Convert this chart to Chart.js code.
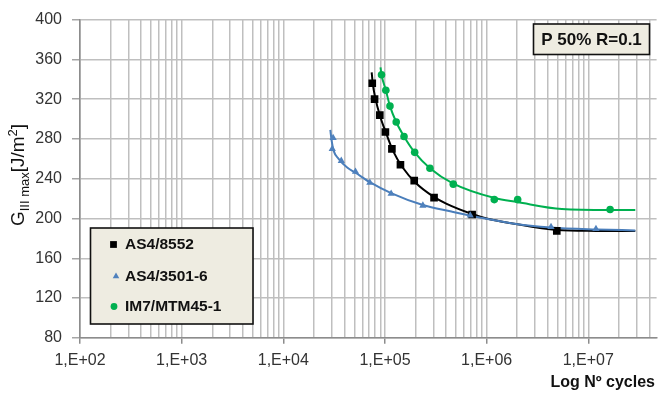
<!DOCTYPE html>
<html><head><meta charset="utf-8">
<script src="https://cdn.jsdelivr.net/npm/chart.js@4/dist/chart.umd.min.js"></script>
<style>html,body{margin:0;padding:0;background:#fff;overflow:hidden}#wrap{width:662px;height:399px;position:relative}</style>
</head><body><div id="wrap"><canvas id="c" width="662" height="399"></canvas></div>
<script>
// ---------- data ----------
const seriesNames = ['AS4/8552', 'AS4/3501-6', 'IM7/MTM45-1'];

// measured points (cycles, G)
const as4_8552_N = [7.5e4, 7.9e4, 8.9e4, 1.01e5, 1.17e5, 1.42e5, 1.94e5, 3.04e5, 7.2e5, 4.9e6];
const as4_8552_G = [336, 320, 304, 287, 270, 254, 238, 221, 204, 187.5];

const as4_3501_N = [3.09e4, 3.03e4, 3.72e4, 5.13e4, 7.1e4, 1.15e5, 2.36e5, 6.9e5, 4.3e6, 1.19e7];
const as4_3501_G = [281, 270, 258, 247, 236, 225, 213, 203, 191.5, 189.5];

const im7_N = [9.25e4, 1.02e5, 1.12e5, 1.29e5, 1.54e5, 1.96e5, 2.77e5, 4.7e5, 1.19e6, 2.02e6, 1.64e7];
const im7_G = [344.5, 329, 313, 297, 282.5, 266.5, 250.5, 234.5, 219, 219, 209];

// fitted trend lines, sampled along the drawn curves
const fit8552_N = [7.4e4, 7.6e4, 8.0e4, 9.0e4, 1.0e5, 1.2e5, 1.5e5, 2.0e5, 3.0e5, 4.0e5, 7.2e5, 1.0e6, 1.8e6, 4.9e6, 1.2e7, 2.9e7];
const fit8552_G = [347, 335, 322, 302, 289, 268, 251, 236, 222, 215, 204.5, 200, 195, 188.5, 187.5, 187.3];

const fit3501_N = [2.9e4, 2.99e4, 3.13e4, 3.5e4, 4.28e4, 5.13e4, 7.1e4, 1.15e5, 2.36e5, 4.5e5, 8.5e5, 1.8e6, 4.3e6, 1.2e7, 2.9e7];
const fit3501_G = [289, 278, 268, 260, 251, 246, 236.5, 225.5, 213.5, 207, 201, 195, 191, 189, 188];

const fitIM7_N = [9.04e4, 9.25e4, 1.02e5, 1.12e5, 1.29e5, 1.54e5, 1.96e5, 2.77e5, 4.7e5, 1.2e6, 2.0e6, 5.5e6, 1.6e7, 2.9e7];
const fitIM7_G = [352, 344.5, 329, 313, 297, 282.5, 266.5, 250.5, 235, 220.5, 216.5, 209.5, 208.5, 208.5];

// axes
const xMajorExponents = [2, 3, 4, 5, 6, 7];
const xTickLabels = ['1,E+02', '1,E+03', '1,E+04', '1,E+05', '1,E+06', '1,E+07'];
const xMin = 100, xMax = 4.7e7;
const yMin = 80, yMax = 400, yStep = 40;
const xTitle = 'Log Nº cycles';
const infoText = 'P 50% R=0.1';

// ---------- build ----------
const FONT = '"Liberation Sans", Arial, sans-serif';
const pts = (xs, ys) => xs.map((x, i) => ({x, y: ys[i]}));

const xGrid = [];
xMajorExponents.forEach(e => { for (let k = 1; k <= 9; k++) { const v = k * Math.pow(10, e); if (v <= xMax) xGrid.push({value: v, major: k === 1}); } });

const BLACK = '#000000', BLUE = '#4F81BD', BLUEL = '#4A7EBB', GREEN = '#00B050';

const datasets = [
  {label: seriesNames[0], data: pts(as4_8552_N, as4_8552_G), pointStyle: 'rect', pointRadius: 5.4, backgroundColor: BLACK, borderColor: BLACK, borderWidth: 0, showLine: false, order: 3, legendRadius: 4.8},
  {label: seriesNames[1], data: pts(as4_3501_N, as4_3501_G), pointStyle: 'triangle', pointRadius: 4.2, backgroundColor: BLUE, borderColor: BLUE, borderWidth: 0, showLine: false, order: 2, legendRadius: 3.8},
  {label: seriesNames[2], data: pts(im7_N, im7_G), pointStyle: 'circle', pointRadius: 3.8, backgroundColor: GREEN, borderColor: GREEN, borderWidth: 0, showLine: false, order: 1, legendRadius: 3.4},
  {label: 'fit ' + seriesNames[0], data: pts(fit8552_N, fit8552_G), showLine: true, pointRadius: 0, borderColor: BLACK, borderWidth: 2, fill: false, cubicInterpolationMode: 'monotone', order: 12},
  {label: 'fit ' + seriesNames[1], data: pts(fit3501_N, fit3501_G), showLine: true, pointRadius: 0, borderColor: BLUEL, borderWidth: 2, fill: false, cubicInterpolationMode: 'monotone', order: 11},
  {label: 'fit ' + seriesNames[2], data: pts(fitIM7_N, fitIM7_G), showLine: true, pointRadius: 0, borderColor: GREEN, borderWidth: 2, fill: false, cubicInterpolationMode: 'monotone', order: 10}
];

const extras = {
  id: 'extras',
  afterDraw(chart) {
    const ctx = chart.ctx;
    ctx.save();
    // legend box
    ctx.fillStyle = '#EEECE1';
    ctx.fillRect(90.5, 228, 162.5, 96);
    ctx.lineWidth = 1.6; ctx.strokeStyle = '#111';
    ctx.strokeRect(90.5, 228, 162.5, 96);
    const rows = [244.5, 276.3, 306.5];
    const mx = [113.5, 116, 114];
    seriesNames.forEach((name, i) => {
      const ds = chart.data.datasets[i];
      ctx.fillStyle = ds.backgroundColor; ctx.strokeStyle = ds.borderColor; ctx.lineWidth = 0;
      Chart.helpers.drawPoint(ctx, {pointStyle: ds.pointStyle, radius: ds.legendRadius, rotation: 0, borderWidth: 0}, mx[i], rows[i]);
      ctx.fillStyle = '#111';
      ctx.font = 'bold 15.5px ' + FONT;
      ctx.textBaseline = 'middle'; ctx.textAlign = 'left';
      ctx.fillText(name, 125, rows[i] + 0.5);
    });
    // info box
    ctx.fillStyle = '#EEECE1';
    ctx.fillRect(533.5, 24, 116, 30.5);
    ctx.lineWidth = 1.6; ctx.strokeStyle = '#111';
    ctx.strokeRect(533.5, 24, 116, 30.5);
    ctx.fillStyle = '#111'; ctx.font = 'bold 17px ' + FONT;
    ctx.textAlign = 'center'; ctx.textBaseline = 'middle';
    ctx.fillText(infoText, 591.5, 40.5);
    // x title
    ctx.font = 'bold 16px ' + FONT; ctx.textAlign = 'right';
    ctx.fillText(xTitle, 655, 383);
    // y title with sub/superscripts
    ctx.translate(17, 175); ctx.rotate(-Math.PI / 2);
    const parts = [
      {t: 'G', f: '19px ' + FONT, dy: 0},
      {t: 'III max', f: '13px ' + FONT, dy: 4.5},
      {t: '[J/m', f: '19px ' + FONT, dy: 0},
      {t: '2', f: '13px ' + FONT, dy: -7.5},
      {t: ']', f: '19px ' + FONT, dy: 0}
    ];
    let total = 0;
    parts.forEach(p => { ctx.font = p.f; p.w = ctx.measureText(p.t).width; total += p.w; });
    let x = -total / 2;
    ctx.textAlign = 'left'; ctx.textBaseline = 'alphabetic'; ctx.fillStyle = '#111';
    parts.forEach(p => { ctx.font = p.f; ctx.fillText(p.t, x, 7 + p.dy); x += p.w; });
    ctx.restore();
  }
};

new Chart(document.getElementById('c'), {
  type: 'scatter',
  data: {datasets},
  plugins: [extras],
  options: {
    responsive: false, animation: false, events: [],
    layout: {padding: {top: 14.6, right: 0, left: 0, bottom: 0}},
    plugins: {legend: {display: false}, tooltip: {enabled: false}, title: {display: false}},
    scales: {
      x: {
        type: 'logarithmic', min: xMin, max: xMax, position: 'bottom',
        afterBuildTicks: s => { s.ticks = xGrid.map(t => ({value: t.value, major: t.major})); },
        afterFit: s => { s.height = 399 - 337.8; },
        grid: {color: '#BFBFBF', lineWidth: 1.5, drawTicks: true, tickLength: 6,
               tickColor: c => (c.tick && c.tick.major) ? '#8C8C8C' : 'rgba(0,0,0,0)'},
        border: {color: '#8C8C8C', width: 1.6},
        ticks: {
          autoSkip: false, maxRotation: 0, minRotation: 0, padding: 7, color: '#333',
          font: {family: FONT, size: 16},
          callback: (v) => { const e = Math.round(Math.log10(v)); if (Math.abs(Math.pow(10, e) - v) < 1e-6 * v) { const i = xMajorExponents.indexOf(e); return i >= 0 ? xTickLabels[i] : ''; } return ''; }
        }
      },
      y: {
        type: 'linear', min: yMin, max: yMax,
        afterFit: s => { s.width = 80; },
        grid: {color: '#BFBFBF', lineWidth: 1.5, drawTicks: true, tickLength: 8, tickColor: '#A6A6A6'},
        border: {color: '#8C8C8C', width: 1.6},
        ticks: {stepSize: yStep, padding: 10, color: '#333', font: {family: FONT, size: 16}}
      }
    }
  }
});
</script></body></html>
